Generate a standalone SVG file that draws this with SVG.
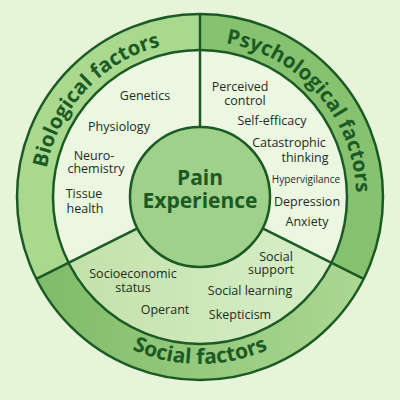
<svg xmlns="http://www.w3.org/2000/svg" width="400" height="400" viewBox="0 0 400 400">
<defs>
<linearGradient id="socRing" x1="0" y1="0" x2="1" y2="0">
<stop offset="0" stop-color="#80bb68"/>
<stop offset="1" stop-color="#abd893"/>
</linearGradient>
<linearGradient id="socIn" x1="0" y1="0" x2="1" y2="0">
<stop offset="0" stop-color="#c2e1aa"/>
<stop offset="1" stop-color="#d8efc8"/>
</linearGradient>
<path id="bioArc" d="M 91.6 309.2 A 156 156 0 0 1 304.4 81.1"/>
<path id="psyArc" d="M 99.7 77.5 A 156 156 0 0 1 304.4 312.9"/>
<path id="socArc" d="M 33 197 A 167 167 0 0 0 367 197"/>
<style>
.ln{fill:none;stroke:#1c5a25;stroke-width:2.5}
.it{font-family:"Open Sans","Noto Sans",sans-serif;font-size:12.5px;fill:#1f2b1f;text-anchor:middle}
.hd{font-family:"Open Sans","Noto Sans",sans-serif;font-size:20.5px;font-weight:bold;fill:#1b5a24;text-anchor:middle}
.ct{font-family:"Open Sans","Noto Sans",sans-serif;font-size:21px;font-weight:bold;fill:#1b5a24;text-anchor:middle}
</style>
</defs>
<rect width="400" height="400" fill="#e6f4d8"/>

<g id="biological">
<path d="M 36.4 278.8 A 183 183 0 0 1 200 14 L 200 50 A 147 147 0 0 0 68.6 262.7 Z" fill="#a9d88f"/>
<path d="M 68.6 262.7 A 147 147 0 0 1 200 50 L 200 127 A 70 70 0 0 0 137.4 228.3 Z" fill="#ebf7e0"/>
<text class="hd"><textPath href="#bioArc" startOffset="50%">Biological factors</textPath></text>
<text class="it" x="145" y="100">Genetics</text>
<text class="it" x="119" y="131">Physiology</text>
<text class="it"><tspan x="94" y="160">Neuro-</tspan><tspan x="96" y="173">chemistry</tspan></text>
<text class="it"><tspan x="84" y="198">Tissue</tspan><tspan x="85" y="213">health</tspan></text>
</g>

<g id="psychological">
<path d="M 200 14 A 183 183 0 0 1 363.6 278.8 L 331.4 262.7 A 147 147 0 0 0 200 50 Z" fill="#87c270"/>
<path d="M 200 50 A 147 147 0 0 1 331.4 262.7 L 262.6 228.3 A 70 70 0 0 0 200 127 Z" fill="#ebf7e0"/>
<text class="hd"><textPath href="#psyArc" startOffset="50%">Psychological factors</textPath></text>
<text class="it"><tspan x="240" y="91">Perceived</tspan><tspan x="245" y="105">control</tspan></text>
<text class="it" x="272" y="125">Self-efficacy</text>
<text class="it"><tspan x="289" y="147">Catastrophic</tspan><tspan x="305" y="162">thinking</tspan></text>
<text class="it" x="306" y="183" style="font-size:10px">Hypervigilance</text>
<text class="it" x="307" y="206">Depression</text>
<text class="it" x="307" y="226">Anxiety</text>
</g>

<g id="social">
<path d="M 363.6 278.8 A 183 183 0 0 1 36.4 278.8 L 68.6 262.7 A 147 147 0 0 0 331.4 262.7 Z" fill="url(#socRing)"/>
<path d="M 331.4 262.7 A 147 147 0 0 1 68.6 262.7 L 137.4 228.3 A 70 70 0 0 0 262.6 228.3 Z" fill="url(#socIn)"/>
<text class="hd" style="font-size:21px"><textPath href="#socArc" startOffset="50%">Social factors</textPath></text>
<text class="it"><tspan x="133" y="278">Socioeconomic</tspan><tspan x="133" y="292">status</tspan></text>
<text class="it" x="165" y="314">Operant</text>
<text class="it"><tspan x="276" y="261">Social</tspan><tspan x="271" y="274">support</tspan></text>
<text class="it" x="250" y="295">Social learning</text>
<text class="it" x="240" y="319">Skepticism</text>
</g>

<g id="dividers">
<circle class="ln" cx="200" cy="197" r="183"/>
<circle class="ln" cx="200" cy="197" r="147"/>
<line class="ln" x1="200" y1="14" x2="200" y2="127"/>
<line class="ln" x1="137.4" y1="228.3" x2="36.4" y2="278.8"/>
<line class="ln" x1="262.6" y1="228.3" x2="363.6" y2="278.8"/>
</g>

<g id="center">
<circle cx="200" cy="197" r="70" fill="#a0d18a" stroke="#1c5a25" stroke-width="2.5"/>
<text class="ct"><tspan x="200" y="185">Pain</tspan><tspan x="200" y="208">Experience</tspan></text>
</g>
</svg>
